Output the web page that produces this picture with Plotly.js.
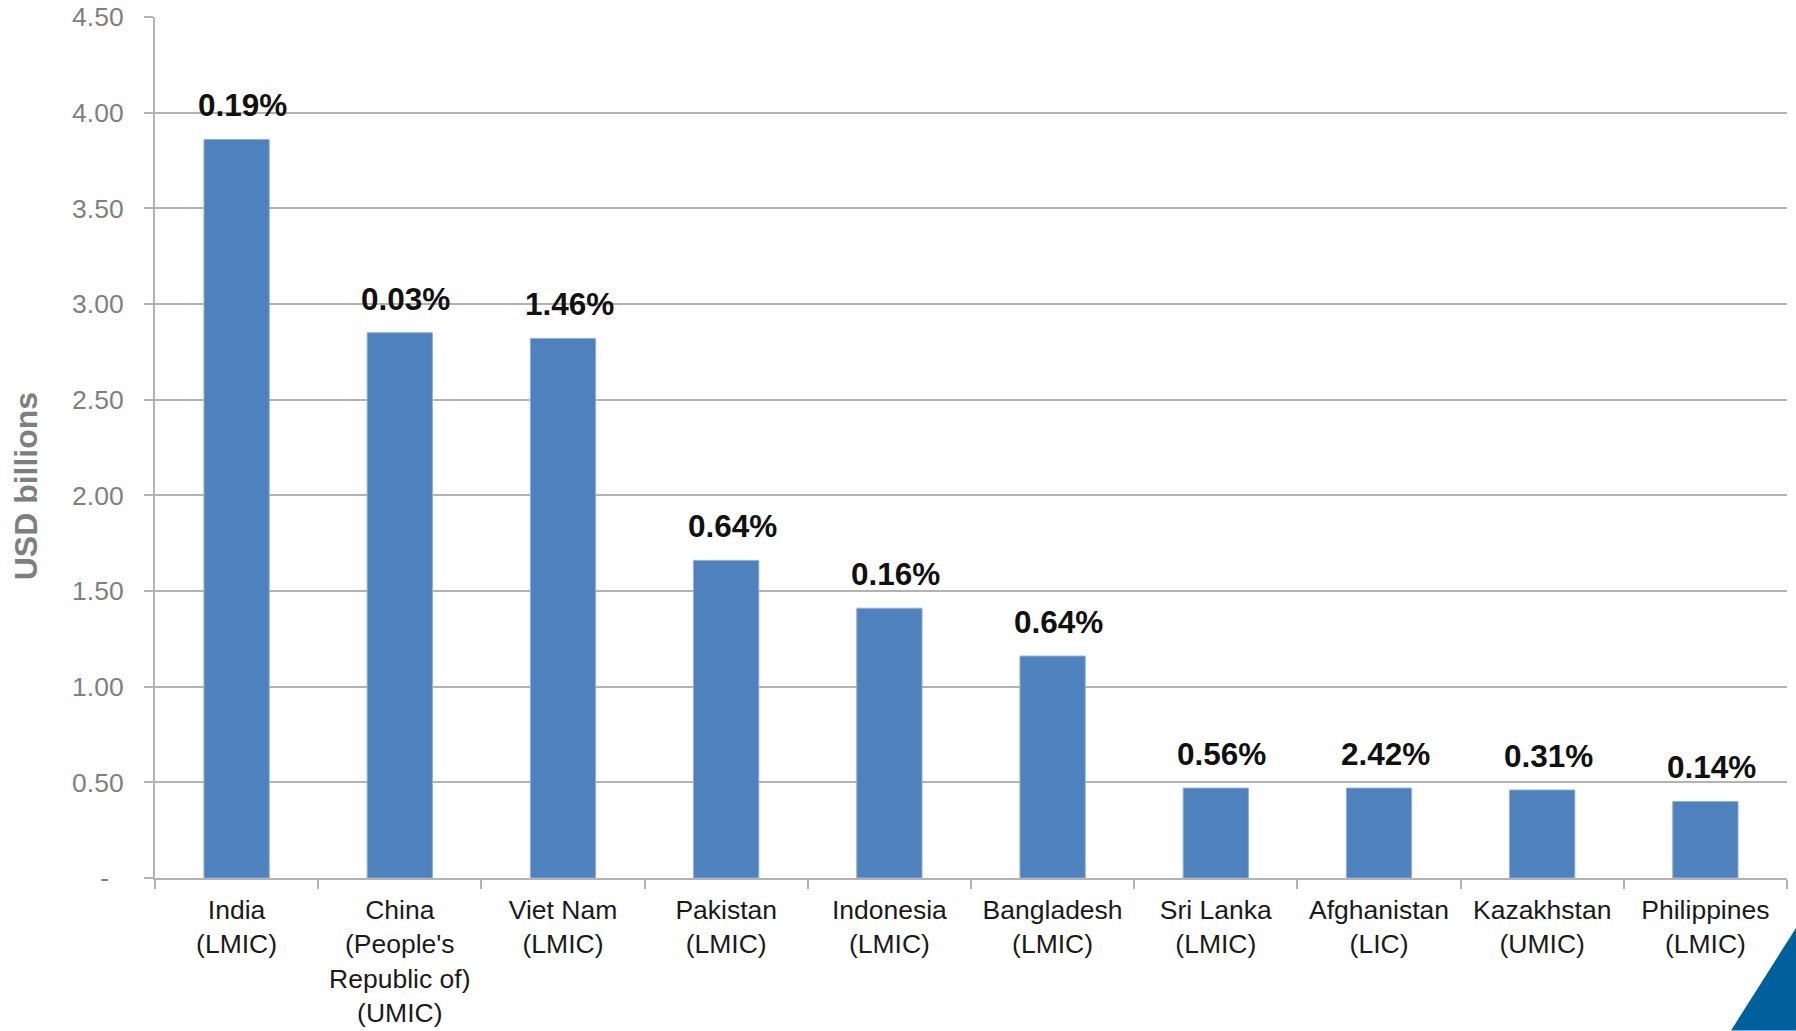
<!DOCTYPE html>
<html>
<head>
<meta charset="utf-8">
<script src="https://cdn.plot.ly/plotly-3.0.1.min.js"></script>
<style>
  html, body { margin: 0; padding: 0; background: #ffffff; }
  #chart { width: 1796px; height: 1031px; }
</style>
</head>
<body>
<div id="chart"></div>
<script>
// Data
const countries = ["India", "China", "Viet Nam", "Pakistan", "Indonesia", "Bangladesh", "Sri Lanka", "Afghanistan", "Kazakhstan", "Philippines"];
const categoryLabels = [
  "India<br>(LMIC)",
  "China<br>(People's<br>Republic of)<br>(UMIC)",
  "Viet Nam<br>(LMIC)",
  "Pakistan<br>(LMIC)",
  "Indonesia<br>(LMIC)",
  "Bangladesh<br>(LMIC)",
  "Sri Lanka<br>(LMIC)",
  "Afghanistan<br>(LIC)",
  "Kazakhstan<br>(UMIC)",
  "Philippines<br>(LMIC)"
];
const usdBillions = [3.86, 2.85, 2.82, 1.66, 1.41, 1.16, 0.47, 0.47, 0.46, 0.40];
const shareLabels = ["0.19%", "0.03%", "1.46%", "0.64%", "0.16%", "0.64%", "0.56%", "2.42%", "0.31%", "0.14%"];
const yTickVals = [0, 0.5, 1, 1.5, 2, 2.5, 3, 3.5, 4, 4.5];
const yTickText = ["-\u00a0\u00a0", "0.50", "1.00", "1.50", "2.00", "2.50", "3.00", "3.50", "4.00", "4.50"];
const yTitle = "USD billions";

const FONT = "Arial, 'Liberation Sans', Helvetica, sans-serif";

const trace = {
  type: "bar",
  x: countries,
  y: usdBillions,
  marker: { color: "#4f81bd", line: { color: "#8fb0dd", width: 1 } },
  hoverinfo: "x+y"
};

const annotations = countries.map((c, i) => ({
  x: c,
  y: usdBillions[i],
  xref: "x",
  yref: "y",
  text: "<b>" + shareLabels[i] + "</b>",
  showarrow: false,
  yanchor: "bottom",
  yshift: 14,
  xshift: 6,
  font: { family: FONT, size: 31.5, color: "#111111" }
}));

annotations.push({
  xref: "paper",
  yref: "paper",
  x: -0.079,
  y: 0.455,
  xanchor: "center",
  yanchor: "middle",
  textangle: -90,
  showarrow: false,
  text: "<b>" + yTitle + "</b>",
  font: { family: FONT, size: 32, color: "#7f7f7f" }
});

const layout = {
  width: 1796,
  height: 1031,
  margin: { l: 155, r: 9, t: 17, b: 152.5, pad: 0 },
  paper_bgcolor: "#ffffff",
  plot_bgcolor: "#ffffff",
  showlegend: false,
  bargap: 0.6,
  font: { family: FONT },
  xaxis: {
    type: "category",
    tickvals: countries,
    ticktext: categoryLabels,
    tickson: "boundaries",
    ticks: "outside",
    ticklen: 9,
    tickwidth: 1.5,
    tickcolor: "#b3b3b3",
    showline: true,
    linecolor: "#b3b3b3",
    linewidth: 2,
    showgrid: false,
    tickangle: 0,
    ticklabelstandoff: 7,
    tickfont: { family: FONT, size: 26.5, color: "#1a1a1a" }
  },
  yaxis: {
    range: [0, 4.5],
    tickvals: yTickVals,
    ticktext: yTickText,
    ticks: "outside",
    ticklen: 9,
    tickwidth: 1.5,
    tickcolor: "#b3b3b3",
    showline: true,
    linecolor: "#b3b3b3",
    linewidth: 2,
    showgrid: true,
    gridcolor: "#b3b3b3",
    gridwidth: 1.5,
    zeroline: false,
    ticklabelstandoff: 15,
    tickfont: { family: FONT, size: 26.5, color: "#7f7f7f" }
  },
  annotations: annotations,
  shapes: [
    {
      type: "path",
      xref: "paper",
      yref: "paper",
      path: "M 1.0055 -0.0580 L 0.9657 -0.1770 L 1.0055 -0.1770 Z",
      fillcolor: "#00609c",
      line: { width: 0 },
      layer: "above"
    }
  ]
};

Plotly.newPlot("chart", [trace], layout, { displayModeBar: false, responsive: false });
</script>
</body>
</html>
